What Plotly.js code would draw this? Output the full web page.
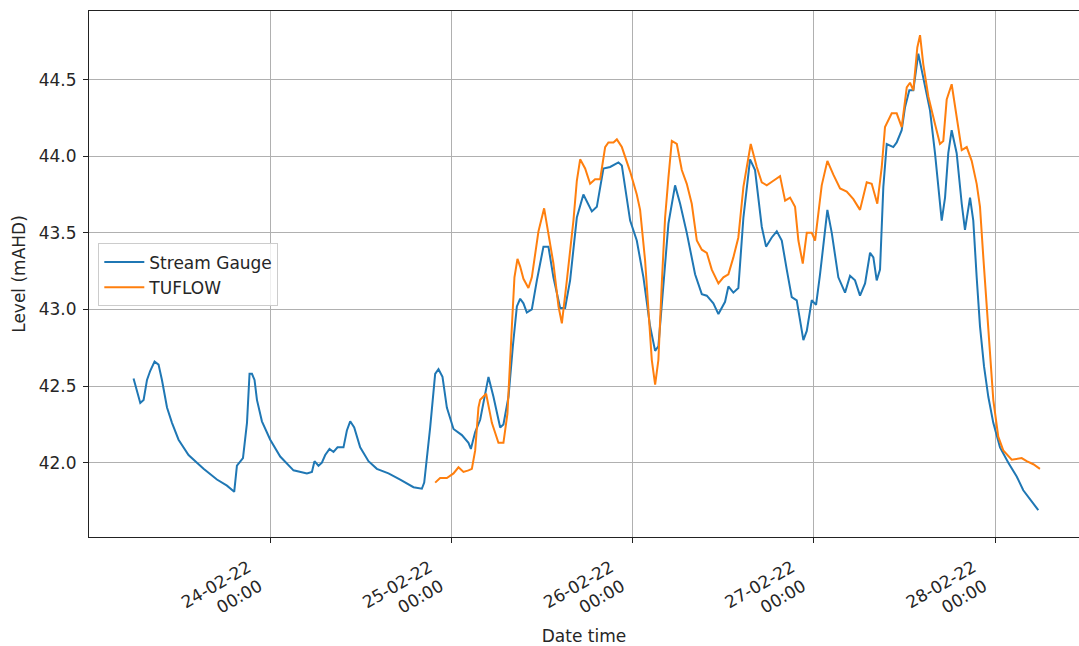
<!DOCTYPE html>
<html>
<head>
<meta charset="utf-8">
<script src="https://cdn.plot.ly/plotly-3.0.1.min.js"></script>
<style>html,body{margin:0;padding:0;background:#fff;}#chart{width:1079px;height:646px;}</style>
</head>
<body>
<div id="chart"></div>
<script>
// Hours since 24-02-22 00:00 and levels (mAHD)
const gaugeHours = [-18.10,-17.21,-16.77,-16.32,-15.89,-15.32,-14.79,-14.34,-13.67,-13.01,-12.14,-10.82,-8.83,-7.06,-5.73,-4.77,-4.41,-3.61,-3.08,-2.74,-2.42,-2.08,-1.76,-1.10,0.00,1.32,3.08,4.86,5.52,5.86,6.39,6.84,7.28,7.85,8.38,8.91,9.70,10.15,10.59,11.12,11.91,13.01,14.12,15.66,17.21,18.97,20.08,20.39,21.18,21.84,22.28,22.81,23.39,24.27,25.38,26.25,26.57,27.14,27.80,28.90,29.56,30.45,30.88,31.55,32.13,32.66,33.10,33.53,33.98,34.64,35.31,36.18,36.84,37.50,38.39,39.05,39.71,40.60,41.47,42.14,42.59,43.25,44.12,45.01,46.11,46.56,47.00,47.66,48.54,49.42,50.30,50.97,51.40,52.07,52.73,53.61,54.28,55.16,56.26,57.15,57.81,58.68,59.35,60.23,60.67,61.33,61.99,62.66,63.54,64.20,65.09,65.66,66.41,67.08,67.74,68.40,69.06,69.72,70.60,71.05,71.71,72.28,72.81,73.78,74.36,75.23,76.12,76.78,77.44,78.10,78.77,79.43,79.87,80.31,80.75,81.19,81.64,82.51,82.96,83.62,84.06,84.63,85.16,85.82,86.48,87.37,88.03,88.47,88.92,89.36,89.79,90.24,90.90,91.57,92.00,92.67,93.10,93.55,93.99,94.52,95.09,95.75,96.64,97.74,98.85,99.72,100.61,101.71];
const gaugeLevel = [42.55,42.39,42.41,42.54,42.60,42.66,42.64,42.54,42.36,42.26,42.15,42.05,41.96,41.89,41.85,41.81,41.98,42.03,42.26,42.58,42.58,42.54,42.41,42.27,42.15,42.04,41.95,41.93,41.94,42.01,41.98,42.00,42.05,42.09,42.07,42.10,42.10,42.21,42.27,42.23,42.10,42.01,41.96,41.93,41.89,41.84,41.83,41.87,42.23,42.58,42.61,42.56,42.36,42.22,42.18,42.13,42.09,42.20,42.28,42.56,42.43,42.23,42.25,42.43,42.76,43.02,43.07,43.04,42.98,43.00,43.19,43.41,43.41,43.21,43.01,43.01,43.19,43.60,43.75,43.68,43.64,43.67,43.92,43.93,43.96,43.94,43.80,43.58,43.45,43.21,42.89,42.73,42.76,43.15,43.56,43.81,43.69,43.50,43.23,43.10,43.09,43.04,42.97,43.05,43.15,43.11,43.14,43.60,43.98,43.91,43.54,43.41,43.47,43.51,43.45,43.26,43.08,43.06,42.80,42.86,43.06,43.03,43.23,43.65,43.50,43.21,43.11,43.22,43.19,43.09,43.17,43.37,43.34,43.19,43.26,43.80,44.08,44.06,44.09,44.17,44.32,44.43,44.43,44.67,44.52,44.30,44.02,43.80,43.58,43.73,44.02,44.17,44.02,43.69,43.52,43.73,43.58,43.21,42.89,42.63,42.43,42.26,42.10,42.00,41.91,41.82,41.76,41.69];

const tuflowHours = [21.84,22.50,23.39,24.27,24.93,25.59,26.25,26.70,27.14,27.57,27.80,28.59,29.35,30.22,30.88,31.41,32.00,32.34,32.74,33.10,33.53,34.19,34.64,35.52,36.27,36.84,37.50,38.17,38.62,39.28,40.15,40.60,41.04,41.70,42.36,43.02,43.69,44.35,44.78,45.45,45.90,46.56,47.66,48.54,48.98,49.64,50.08,50.53,50.97,51.40,51.85,52.29,52.73,53.18,53.84,54.50,55.16,55.82,56.49,57.15,57.81,58.47,59.35,60.01,60.67,61.33,61.99,62.66,63.63,64.43,65.09,65.75,66.63,67.51,68.18,68.84,69.50,69.94,70.52,71.05,71.71,72.15,73.03,73.78,74.57,75.46,76.34,77.22,78.10,78.99,79.65,80.39,80.98,81.41,82.30,82.96,83.62,84.29,84.72,85.16,85.69,86.05,86.48,87.15,88.03,88.69,89.13,89.58,90.24,90.90,91.57,92.23,92.89,93.55,93.99,94.43,94.88,95.31,95.75,96.41,97.07,98.19,99.51,100.17,101.05,101.93];
const tuflowLevel = [41.87,41.90,41.90,41.93,41.97,41.94,41.95,41.96,42.08,42.36,42.41,42.45,42.26,42.13,42.13,42.32,42.89,43.21,43.33,43.28,43.20,43.14,43.21,43.51,43.66,43.50,43.30,43.02,42.91,43.19,43.58,43.84,43.98,43.92,43.82,43.85,43.85,44.06,44.09,44.09,44.11,44.06,43.90,43.75,43.65,43.32,42.97,42.67,42.51,42.67,43.17,43.60,43.86,44.10,44.08,43.91,43.82,43.69,43.45,43.39,43.37,43.26,43.17,43.21,43.23,43.34,43.47,43.80,44.08,43.93,43.83,43.81,43.84,43.87,43.71,43.73,43.67,43.45,43.30,43.50,43.50,43.45,43.81,43.97,43.88,43.79,43.77,43.72,43.65,43.83,43.82,43.69,43.93,44.19,44.28,44.28,44.19,44.45,44.48,44.43,44.71,44.79,44.60,44.39,44.21,44.08,44.10,44.37,44.47,44.26,44.04,44.06,43.97,43.82,43.67,43.34,43.00,42.67,42.41,42.17,42.08,42.02,42.03,42.01,41.99,41.96];

const tickDates = ['2022-02-24','2022-02-25','2022-02-26','2022-02-27','2022-02-28'];
const tickLabels = ['24-02-22<br>00:00','25-02-22<br>00:00','26-02-22<br>00:00','27-02-22<br>00:00','28-02-22<br>00:00'];
const yTicks = [42.0, 42.5, 43.0, 43.5, 44.0, 44.5];

const base = Date.UTC(2022, 1, 24);
function toDate(h) {
  return new Date(base + h * 3600000).toISOString().slice(0, 19).replace('T', ' ');
}

const FONT = 'DejaVu Sans, sans-serif';
const FS = 17;
const TXT = '#262626';
const traces = [
  {x: gaugeHours.map(toDate), y: gaugeLevel, mode: 'lines', name: 'Stream Gauge',
   line: {color: '#1f77b4', width: 2}},
  {x: tuflowHours.map(toDate), y: tuflowLevel, mode: 'lines', name: 'TUFLOW',
   line: {color: '#ff7f0e', width: 2}}
];

const layout = {
  width: 1079, height: 646,
  margin: {l: 89, r: 0, t: 11, b: 109},
  paper_bgcolor: '#fff', plot_bgcolor: '#fff',
  font: {family: FONT, size: FS, color: TXT},
  showlegend: true,
  legend: {x: 0.0094, y: 0.558, xanchor: 'left', yanchor: 'top', itemwidth: 40,
    bgcolor: 'rgba(255,255,255,0.8)', bordercolor: '#cccccc', borderwidth: 1,
    font: {family: FONT, size: FS, color: TXT}},
  xaxis: {
    type: 'date',
    range: ['2022-02-23 00:00', '2022-02-28 11:06'],
    tickvals: tickDates, ticktext: tickLabels, tickangle: -30,
    ticklabelshift: -22, ticklabelstandoff: 8,
    ticks: 'outside', ticklen: 5, tickcolor: '#222', tickwidth: 1,
    showline: true, linecolor: '#222', linewidth: 1, mirror: true,
    showgrid: true, gridcolor: '#b0b0b0', gridwidth: 1, zeroline: false,
    tickfont: {family: FONT, size: FS, color: TXT},
    title: {text: 'Date time', standoff: 14, font: {family: FONT, size: FS, color: TXT}}
  },
  yaxis: {
    range: [41.515, 44.948],
    tickvals: yTicks, tickformat: '.1f',
    ticks: 'outside', ticklen: 5, tickcolor: '#222', tickwidth: 1,
    ticklabelstandoff: 3,
    showline: true, linecolor: '#222', linewidth: 1, mirror: false,
    showgrid: true, gridcolor: '#b0b0b0', gridwidth: 1, zeroline: false,
    tickfont: {family: FONT, size: FS, color: TXT},
    title: {text: 'Level (mAHD)', standoff: 8, font: {family: FONT, size: FS, color: TXT}}
  }
};

Plotly.newPlot('chart', traces, layout, {displayModeBar: false, staticPlot: true});
</script>
</body>
</html>
